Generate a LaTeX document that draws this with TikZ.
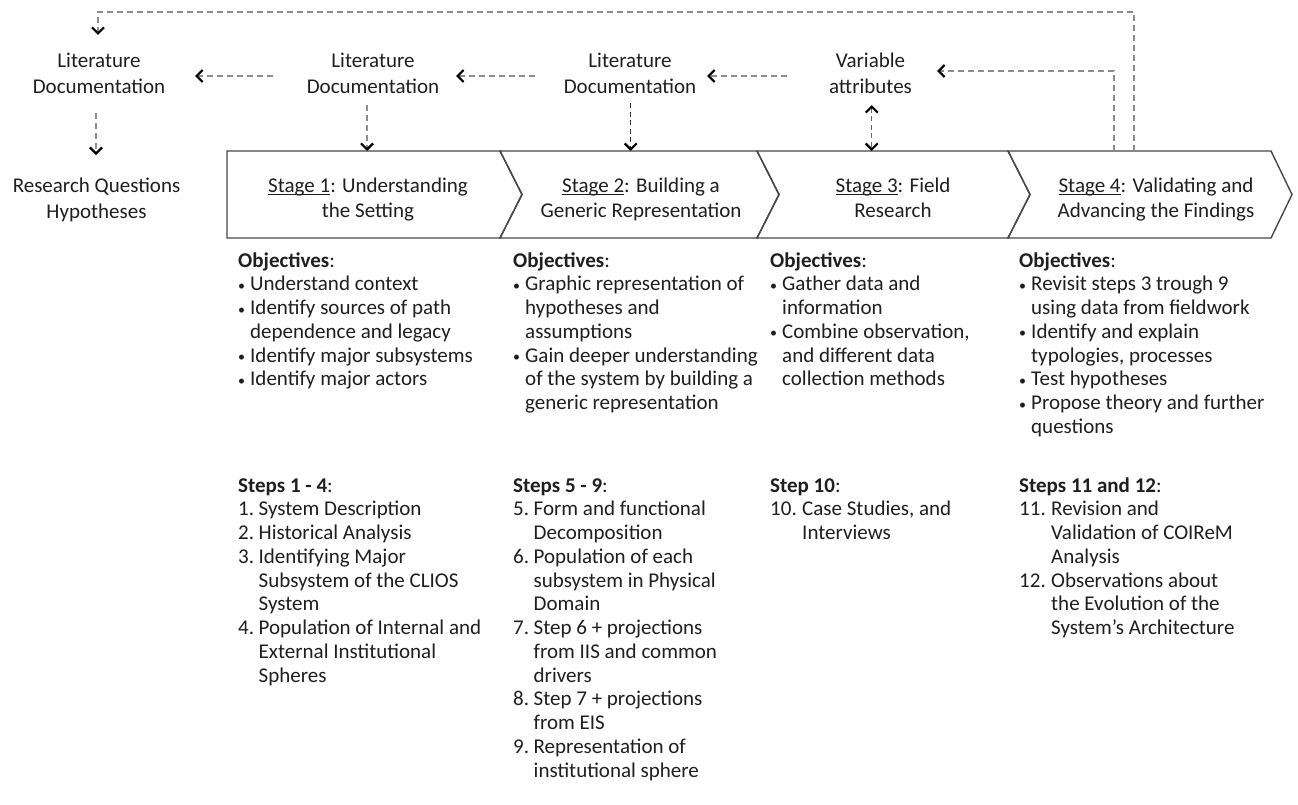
\documentclass[tikz,border=0pt]{standalone}
\usepackage{fontspec}
\setmainfont{Carlito}
\usetikzlibrary{arrows.meta,calc}
\newsavebox\sulbox
\newcommand{\sul}[1]{\sbox\sulbox{#1}\rlap{\rule[-2.6pt]{\wd\sulbox}{1.1pt}}\usebox\sulbox}
\newcommand{\bl}{\makebox[12pt][l]{\fontsize{14}{14}\selectfont\raisebox{0.5pt}{\textbullet}}}
\newcommand{\ind}{\makebox[12pt]{}}
\newcommand{\na}[1]{\makebox[20.5pt][l]{#1}}
\newcommand{\ia}{\makebox[20.5pt]{}}
\newcommand{\nb}[1]{\makebox[32pt][l]{#1}}
\newcommand{\ib}{\makebox[32pt]{}}
\begin{document}
\begin{tikzpicture}[x=1pt,y=-1pt,
  >={Straight Barb[length=6pt,width=12pt,line width=2.2pt,color=black]},
  stg/.style={draw=black!72, line width=1.4pt, line join=miter},
  lbl/.style={font=\fontsize{21}{25.5}\selectfont, align=center, inner sep=0pt, text=black!88},
  lst/.style={anchor=north west, align=left, inner sep=0pt, font=\fontsize{21}{23.75}\selectfont, text=black!88},
  darr/.style={draw=black!45, line width=1.5pt, dash pattern=on 6pt off 4pt, ->},
  darrk/.style={draw=black!80, line width=1.3pt, dash pattern=on 5pt off 3.5pt, ->},
  dboth/.style={draw=black!60, line width=1.4pt, dash pattern=on 5pt off 3.5pt, <->}
]
\fill[white] (0,0) rectangle (1298,805);
\useasboundingbox (0,0) rectangle (1298,805);

% stage chevrons
\draw[stg] (227,151) -- (500,151) -- (522,194.5) -- (500,238) -- (227,238) -- cycle;
\draw[stg] (500,151) -- (757,151) -- (779,194.5) -- (757,238) -- (500,238) -- (522,194.5) -- cycle;
\draw[stg] (757,151) -- (1008,151) -- (1030,194.5) -- (1008,238) -- (757,238) -- (779,194.5) -- cycle;
\draw[stg] (1008,151) -- (1271,151) -- (1292,194.5) -- (1271,238) -- (1008,238) -- (1030,194.5) -- cycle;

% stage labels
\node[lbl] (s1) at (368,200) {\strut\sul{Stage 1}: Understanding\\\strut the Setting};
\node[lbl] (s2) at (641,200) {\strut\sul{Stage 2}: Building a\\\strut Generic Representation};
\node[lbl] (s3) at (893,200) {\strut\sul{Stage 3}: Field\\\strut Research};
\node[lbl] (s4) at (1156,200) {\strut\sul{Stage 4}: Validating and\\\strut Advancing the Findings};

% top labels
\node[lbl] (ld1) at (99,75.65) {\strut Literature\\\strut Documentation};
\node[lbl] (rq) at (96.5,200.65) {\strut Research Questions\\\strut Hypotheses};
\node[lbl] (ld2) at (373,75.65) {\strut Literature\\\strut Documentation};
\node[lbl] (ld3) at (630,75.65) {\strut Literature\\\strut Documentation};
\node[lbl] (va) at (870.5,75.65) {\strut Variable\\\strut attributes};

% anchor points on the stage tops
\coordinate (t1) at (367,151);
\coordinate (t2) at (630.7,151);
\coordinate (t3) at (871.7,151);
\coordinate (t4a) at (1114,151);
\coordinate (t4b) at (1134,151);

% connectors
\draw[darr] ($(ld1.center)+(-3,37.4)$) -- ($(rq.center)+(-0.5,-45.6)$);
\draw[darr] ($(ld2.center)+(-6,29.4)$) -- (t1);
\draw[darrk] ($(ld3.center)+(0.7,27.4)$) -- (t2);
\draw[dboth] ($(va.center)+(1.2,29.4)$) -- (t3);
\draw[darr] (t4a) |- ($(va.center)+(66.5,-4.65)$);
\draw[darr] (t4b) -- ++(0,-139) -| ($(ld1.center)+(-1,-40.65)$);
\draw[darr] ($(va.center)+(-83.5,0.35)$) -- ($(ld3.center)+(77,0.35)$);
\draw[darr] ($(ld3.center)+(-95,0.35)$) -- ($(ld2.center)+(83,0.35)$);
\draw[darr] ($(ld2.center)+(-100,0.35)$) -- ($(ld1.center)+(96,0.35)$);

% objectives
\node[lst] (o1) at (238,250.4) {\strut\textbf{Objectives}:\\
\bl Understand context\\
\bl Identify sources of path\\
\ind dependence and legacy\\
\bl Identify major subsystems\\
\bl Identify major actors};
\node[lst] (o2) at (513,250.4) {\strut\textbf{Objectives}:\\
\bl Graphic representation of\\
\ind hypotheses and\\
\ind assumptions\\
\bl Gain deeper understanding\\
\ind of the system by building a\\
\ind generic representation};
\node[lst] (o3) at (770,250.4) {\strut\textbf{Objectives}:\\
\bl Gather data and\\
\ind information\\
\bl Combine observation,\\
\ind and different data\\
\ind collection methods};
\node[lst] (o4) at (1019,250.4) {\strut\textbf{Objectives}:\\
\bl Revisit steps 3 trough 9\\
\ind using data from fieldwork\\
\bl Identify and explain\\
\ind typologies, processes\\
\bl Test hypotheses\\
\bl Propose theory and further\\
\ind questions};

% steps
\node[lst] (p1) at (238,475.4) {\strut\textbf{Steps 1 - 4}:\\
\na{1.}System Description\\
\na{2.}Historical Analysis\\
\na{3.}Identifying Major\\
\ia Subsystem of the CLIOS\\
\ia System\\
\na{4.}Population of Internal and\\
\ia External Institutional\\
\ia Spheres};
\node[lst] (p2) at (513,475.4) {\strut\textbf{Steps 5 - 9}:\\
\na{5.}Form and functional\\
\ia Decomposition\\
\na{6.}Population of each\\
\ia subsystem in Physical\\
\ia Domain\\
\na{7.}Step 6 + projections\\
\ia from IIS and common\\
\ia drivers\\
\na{8.}Step 7 + projections\\
\ia from EIS\\
\na{9.}Representation of\\
\ia institutional sphere};
\node[lst] (p3) at (770,475.4) {\strut\textbf{Step 10}:\\
\nb{10.}Case Studies, and\\
\ib Interviews};
\node[lst] (p4) at (1019,475.4) {\strut\textbf{Steps 11 and 12}:\\
\nb{11.}Revision and\\
\ib Validation of COIReM\\
\ib Analysis\\
\nb{12.}Observations about\\
\ib the Evolution of the\\
\ib System’s Architecture};
\end{tikzpicture}
\end{document}
